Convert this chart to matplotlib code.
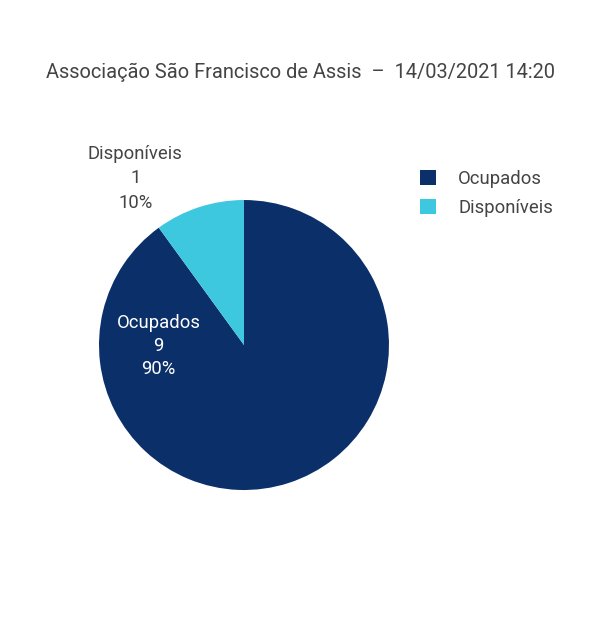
import matplotlib.pyplot as plt
from matplotlib.patches import Patch

plt.rcParams["font.family"] = ["Roboto", "DejaVu Sans"]

labels = ["Ocupados", "Disponíveis"]
values = [9, 1]
colors = ["#0b2f69", "#3dc8e0"]
title = "Associação São Francisco de Assis  –  14/03/2021 14:20"

text_gray = "#444444"

fig = plt.figure(figsize=(6, 6.3), dpi=100)
ax = fig.add_axes([0.165, 0.2222, 0.4833, 0.4603])

wedges, _ = ax.pie(values, colors=colors, startangle=90, counterclock=False,
                   radius=1.0, wedgeprops=dict(linewidth=0))
ax.set_xlim(-1, 1)
ax.set_ylim(-1, 1)
ax.set_aspect("auto")

total = sum(values)
pcts = [round(100 * v / total) for v in values]

# inside label for the large slice, outside label for the small one
ax.text(-0.59, -0.005, f"{labels[0]}\n{values[0]}\n{pcts[0]}%", color="white",
        ha="center", va="center", fontsize=13.3, linespacing=1.37)
ax.text(-0.75, 1.15, f"{labels[1]}\n{values[1]}\n{pcts[1]}%", color=text_gray,
        ha="center", va="center", fontsize=13.3, linespacing=1.45, clip_on=False)

fig.text(0.5, 1 - 72 / 630, title, ha="center", va="center",
         fontsize=14.4, color=text_gray)

handles = [Patch(facecolor=c, edgecolor="none") for c in colors]
fig.legend(handles, labels, loc="upper left", bbox_to_anchor=(0.672, 1 - 153 / 630),
           frameon=False, fontsize=13.3, handlelength=0.87, handleheight=0.87,
           handletextpad=1.2, labelspacing=0.62, labelcolor=text_gray)

fig.savefig("out.png", dpi=100, facecolor="white")
